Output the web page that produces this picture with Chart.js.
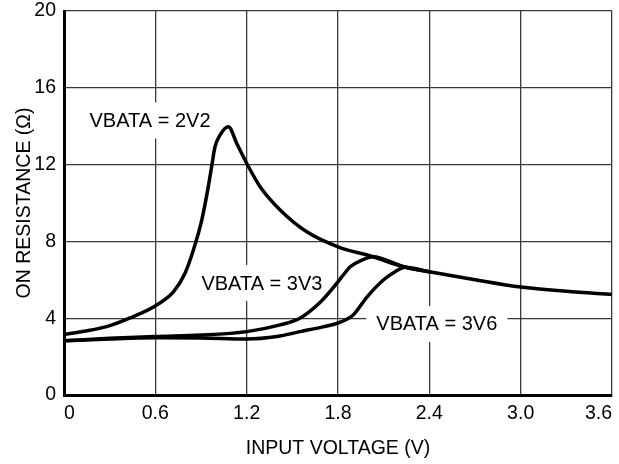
<!DOCTYPE html>
<html>
<head>
<meta charset="utf-8">
<script src="https://cdn.jsdelivr.net/npm/chart.js@4"></script>
<style>
  html, body { margin: 0; padding: 0; background: #fff; }
  #wrap { width: 619px; height: 464px; }
</style>
</head>
<body>
<div id="wrap"><canvas id="chart" width="619" height="464"></canvas></div>
<script>
// Tick labels
const xTicks = [0, 0.6, 1.2, 1.8, 2.4, 3.0, 3.6];
const yTicks = [0, 4, 8, 12, 16, 20];

// VBATA = 2V2
const v2v2 = [0, 0.28, 0.43, 0.61, 0.72, 0.795, 0.85, 0.905, 0.948, 0.97, 0.992, 1.025, 1.08, 1.135, 1.2, 1.288, 1.42, 1.595, 1.8, 2.03, 2.23, 2.4, 2.7, 3.0, 3.3, 3.6];
const r2v2 = [3.15, 3.56, 4.0, 4.69, 5.38, 6.34, 7.55, 9.11, 10.85, 11.9, 12.93, 13.54, 13.97, 13.1, 12.07, 10.85, 9.64, 8.5, 7.72, 7.2, 6.68, 6.42, 6.0, 5.62, 5.4, 5.24];

// VBATA = 3V3
const v3v3 = [0, 0.3, 0.6, 0.9, 1.2, 1.42, 1.55, 1.68, 1.77, 1.83, 1.88, 1.95, 2.03, 2.23, 2.4];
const r3v3 = [2.82, 2.95, 3.05, 3.12, 3.3, 3.65, 4.0, 4.8, 5.6, 6.2, 6.68, 7.0, 7.2, 6.68, 6.42];

// VBATA = 3V6
const v3v6 = [0, 0.3, 0.6, 0.9, 1.2, 1.4, 1.55, 1.7, 1.8, 1.9, 1.99, 2.1, 2.18, 2.24, 2.4];
const r3v6 = [2.82, 2.92, 2.98, 2.97, 2.92, 3.05, 3.3, 3.55, 3.75, 4.17, 5.1, 6.0, 6.45, 6.66, 6.42];

// curve labels (text + data position)
const labelText = ['VBATA = 2V2', 'VBATA = 3V3', 'VBATA = 3V6'];
const labelV = [0.565, 1.30, 2.449];
const labelR = [14.3, 5.83, 3.70];

const FONT = "'Liberation Sans', Arial, Helvetica, sans-serif";

function pts(xs, ys){ return xs.map((x,i)=>({x:x, y:ys[i]})); }

function curve(xs, ys){
  return {
    data: pts(xs, ys),
    showLine: true,
    borderColor: '#000',
    borderWidth: 3.5,
    pointRadius: 0,
    fill: false,
    cubicInterpolationMode: 'monotone'
  };
}

// labels with white box behind, drawn over the grid
const curveLabels = {
  id: 'curveLabels',
  beforeDatasetsDraw(chart){
    const ctx = chart.ctx, xs = chart.scales.x, ys = chart.scales.y;
    ctx.save();
    ctx.font = '20px ' + FONT;
    ctx.textAlign = 'center';
    ctx.textBaseline = 'middle';
    labelText.forEach((t,i)=>{
      const px = xs.getPixelForValue(labelV[i]);
      const py = ys.getPixelForValue(labelR[i]);
      const w = ctx.measureText(t).width + 20;
      ctx.fillStyle = '#fff';
      ctx.fillRect(px - w/2, py - 18, w, 36);
      ctx.fillStyle = '#000';
      ctx.fillText(t, px, py + 1);
    });
    ctx.restore();
  }
};

new Chart(document.getElementById('chart'), {
  type: 'scatter',
  data: { datasets: [curve(v2v2, r2v2), curve(v3v3, r3v3), curve(v3v6, r3v6)] },
  options: {
    responsive: false,
    animation: false,
    layout: { padding: { top: 11, right: 7, left: 0, bottom: 0 } },
    plugins: { legend: { display: false }, tooltip: { enabled: false } },
    scales: {
      x: {
        type: 'linear', min: 0, max: 3.6,
        afterBuildTicks: s => { s.ticks = xTicks.map(v=>({value:v})); },
        afterFit: s => { s.height = 69; s.paddingLeft = 0; s.paddingRight = 0; },
        grid: { color: '#3a3a3a', lineWidth: 1.3, drawTicks: false },
        border: { color: '#000', width: 3 },
        ticks: {
          color: '#000', padding: 7, align: 'inner', maxRotation: 0,
          font: { family: FONT, size: 19.5 },
          callback: v => v === 0 ? '0' : v.toFixed(1)
        },
        title: {
          display: true, text: 'INPUT VOLTAGE (V)', color: '#000',
          font: { family: FONT, size: 19.5 }, padding: { top: 0, bottom: 4 }
        }
      },
      y: {
        type: 'linear', min: 0, max: 20,
        afterBuildTicks: s => { s.ticks = yTicks.map(v=>({value:v})); },
        afterFit: s => { s.width = 64; s.paddingTop = 0; s.paddingBottom = 0; },
        grid: { color: '#3a3a3a', lineWidth: 1.3, drawTicks: false },
        border: { color: '#000', width: 3 },
        ticks: {
          color: '#000', padding: 8,
          font: { family: FONT, size: 19.5 },
          callback: v => String(v)
        },
        title: {
          display: true, text: 'ON RESISTANCE (\u03A9)', color: '#000',
          font: { family: FONT, size: 19.5 }, padding: { top: 13, bottom: 0 }
        }
      }
    }
  },
  plugins: [curveLabels]
});
</script>
</body>
</html>
